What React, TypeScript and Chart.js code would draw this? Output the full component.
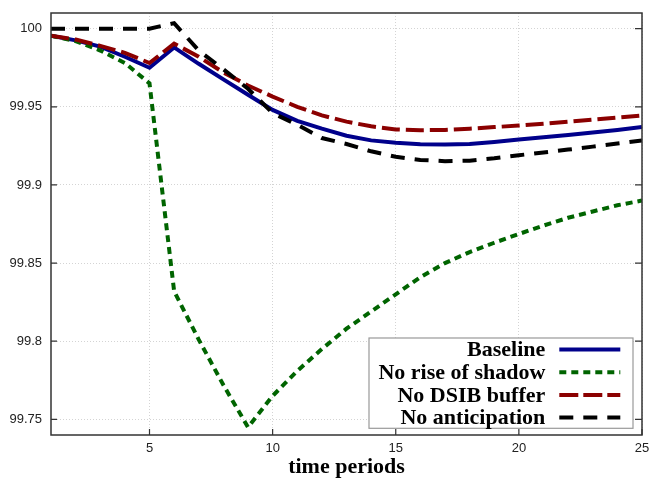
import React, { useEffect, useRef } from 'react';
import { Chart, registerables } from 'chart.js';

Chart.register(...registerables);

const periods = [1, 2, 3, 4, 5, 6, 7, 8, 9, 10, 11, 12, 13, 14, 15, 16, 17, 18, 19, 20, 21, 22, 23, 24, 25];

const baseline = [99.9955, 99.9925, 99.9885, 99.982, 99.975, 99.988, 99.9775, 99.9675, 99.9577, 99.948, 99.941, 99.936, 99.9315, 99.9285, 99.927, 99.926, 99.9258, 99.9262, 99.9275, 99.929, 99.9305, 99.932, 99.9335, 99.9352, 99.937];
const noShadow = [99.9955, 99.992, 99.986, 99.978, 99.965, 99.832, 99.801, 99.772, 99.745, 99.765, 99.781, 99.795, 99.808, 99.819, 99.83, 99.841, 99.85, 99.857, 99.863, 99.8686, 99.874, 99.879, 99.883, 99.887, 99.89];
const noDsib = [99.9955, 99.993, 99.989, 99.9845, 99.978, 99.9904, 99.982, 99.972, 99.9636, 99.9565, 99.95, 99.9445, 99.9405, 99.9375, 99.9355, 99.935, 99.9352, 99.936, 99.937, 99.938, 99.9392, 99.9405, 99.9418, 99.9431, 99.9444];
const noAnticipation = [100, 100, 100, 100, 100, 100.0035, 99.986, 99.974, 99.9615, 99.946, 99.9385, 99.93, 99.9262, 99.9215, 99.918, 99.916, 99.9152, 99.9155, 99.917, 99.919, 99.9208, 99.9226, 99.9245, 99.9265, 99.9285];

const seriesLabels = ['Baseline', 'No rise of shadow', 'No DSIB buffer', 'No anticipation'];
const xTickValues = [5, 10, 15, 20, 25];
const yTickValues = [99.75, 99.8, 99.85, 99.9, 99.95, 100];
const xTitle = 'time periods';

const overlayPlugin = {
  id: 'overlayPlugin',
  beforeDatasetsDraw(chart: any) {
    const { ctx, chartArea: a, scales } = chart;
    ctx.save();
    ctx.strokeStyle = '#333';
    ctx.lineWidth = 1.2;
    ctx.beginPath();
    for (const v of xTickValues) {
      const px = scales.x.getPixelForValue(v);
      ctx.moveTo(px, a.bottom);
      ctx.lineTo(px, a.bottom - 6);
    }
    for (const v of yTickValues) {
      const py = scales.y.getPixelForValue(v);
      ctx.moveTo(a.left, py);
      ctx.lineTo(a.left + 6, py);
      ctx.moveTo(a.right, py);
      ctx.lineTo(a.right - 7, py);
    }
    ctx.stroke();
    ctx.restore();
  },
  afterDraw(chart: any) {
    const { ctx, chartArea: a } = chart;
    ctx.save();
    ctx.strokeStyle = '#333';
    ctx.lineWidth = 1.5;
    ctx.strokeRect(a.left, a.top, a.right - a.left, a.bottom - a.top);

    // legend box
    const boxRight = a.right - 9;
    const boxLeft = a.left + 318;
    const boxTop = a.bottom - 97;
    const boxBottom = a.bottom - 6.7;
    ctx.fillStyle = '#fff';
    ctx.fillRect(boxLeft, boxTop, boxRight - boxLeft, boxBottom - boxTop);
    ctx.strokeStyle = '#999';
    ctx.lineWidth = 1.2;
    ctx.strokeRect(boxLeft, boxTop, boxRight - boxLeft, boxBottom - boxTop);

    const rowY0 = a.bottom - 85.4;
    const step = 22.67;
    const textRight = a.right - 96.7;
    const sampleL = a.right - 82.7;
    const sampleR = a.right - 21.7;
    ctx.font = 'bold 22px "Liberation Serif", "Times New Roman", serif';
    ctx.textAlign = 'right';
    ctx.textBaseline = 'middle';
    chart.data.datasets.forEach((ds: any, i: number) => {
      const y = rowY0 + i * step;
      ctx.fillStyle = '#000';
      ctx.fillText(ds.label, textRight, y + 1);
      ctx.save();
      ctx.strokeStyle = ds.borderColor;
      ctx.lineWidth = ds.borderWidth;
      ctx.setLineDash(ds.legendDash || []);
      ctx.lineCap = 'butt';
      ctx.beginPath();
      ctx.moveTo(sampleL, y);
      ctx.lineTo(sampleR, y);
      ctx.stroke();
      ctx.restore();
    });
    ctx.restore();
  },
};

const zeroPad = (s: any) => {
  s.paddingTop = 0;
  s.paddingBottom = 0;
  s.paddingLeft = 0;
  s.paddingRight = 0;
};

export default function App() {
  const canvasRef = useRef<HTMLCanvasElement | null>(null);

  useEffect(() => {
    document.body.style.margin = '0';
    const canvas = canvasRef.current;
    if (!canvas) return;
    const mk = (arr: number[]) => periods.map((x, i) => ({ x, y: arr[i] }));
    const chart = new Chart(canvas, {
      type: 'line',
      data: {
        datasets: [
          { label: seriesLabels[0], data: mk(baseline), borderColor: '#00008b', borderWidth: 4, borderDash: [], legendDash: [], order: 4 } as any,
          { label: seriesLabels[1], data: mk(noShadow), borderColor: '#006400', borderWidth: 4, borderDash: [7, 5], legendDash: [7, 5], order: 3 } as any,
          { label: seriesLabels[2], data: mk(noDsib), borderColor: '#8b0000', borderWidth: 4, borderDash: [18, 6], legendDash: [19, 5], order: 2 } as any,
          { label: seriesLabels[3], data: mk(noAnticipation), borderColor: '#000000', borderWidth: 4, borderDash: [14, 10], legendDash: [14, 10], order: 1 } as any,
        ],
      },
      options: {
        animation: false,
        responsive: false,
        maintainAspectRatio: false,
        layout: { padding: { left: 0, right: 8, top: 13, bottom: 0 } },
        elements: { point: { radius: 0 }, line: { tension: 0, borderCapStyle: 'butt' } },
        plugins: { legend: { display: false }, tooltip: { enabled: false } },
        scales: {
          x: {
            type: 'linear',
            min: 1,
            max: 25,
            afterBuildTicks: (s: any) => { s.ticks = xTickValues.map((v) => ({ value: v })); },
            afterFit: (s: any) => { s.height = 43; zeroPad(s); },
            grid: { color: '#d4d4d4', lineWidth: 1, drawTicks: false },
            border: { display: false, dash: [1, 2] },
            ticks: {
              padding: 6,
              color: '#222',
              font: { family: '"Liberation Sans", Arial, sans-serif', size: 13 },
              maxRotation: 0,
              callback: (v: any) => String(v),
            },
            title: {
              display: true,
              text: xTitle,
              color: '#000',
              padding: 0,
              font: { family: '"Liberation Serif", "Times New Roman", serif', size: 22, weight: 'bold', lineHeight: 1 },
            },
          },
          y: {
            type: 'linear',
            min: 99.74,
            max: 100.01,
            afterBuildTicks: (s: any) => { s.ticks = yTickValues.map((v) => ({ value: v })); },
            afterFit: (s: any) => { s.width = 51; zeroPad(s); },
            grid: { color: '#d4d4d4', lineWidth: 1, drawTicks: false },
            border: { display: false, dash: [1, 2] },
            ticks: {
              padding: 9,
              color: '#222',
              font: { family: '"Liberation Sans", Arial, sans-serif', size: 13 },
              callback: (v: any) => String(Number(Number(v).toFixed(2))),
            },
          },
        },
      } as any,
      plugins: [overlayPlugin],
    });
    return () => chart.destroy();
  }, []);

  return (
    <div style={{ width: 650, height: 478 }}>
      <canvas ref={canvasRef} width={650} height={478} style={{ display: 'block' }} />
    </div>
  );
}
